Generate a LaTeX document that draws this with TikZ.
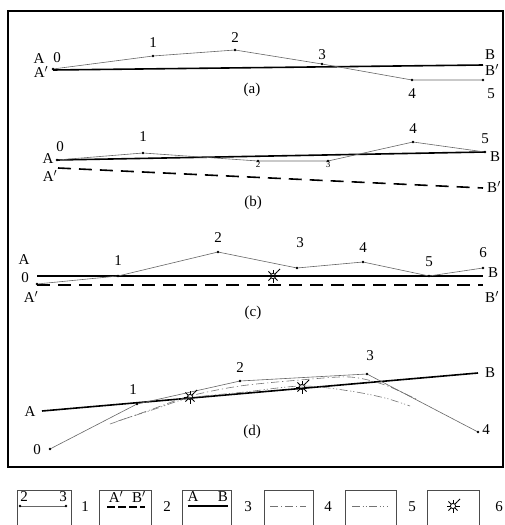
\documentclass[tikz,border=0pt]{standalone}
\usepackage{fontspec}
\setmainfont{Liberation Serif}
\begin{document}
\begin{tikzpicture}[x=1pt,y=-1pt,
  lbl/.style={inner sep=0pt,font=\fontsize{15}{17}\selectfont},
  heavy/.style={line width=1.6pt,black},
  heavydash/.style={line width=1.6pt,black,dash pattern=on 13pt off 8pt},
  thinline/.style={line width=0.6pt,black!60},
  dashdot/.style={line width=0.6pt,black!55,dash pattern=on 8pt off 3pt on 1.2pt off 3pt},
  dashdotdot/.style={line width=0.6pt,black!55,dash pattern=on 8pt off 2.5pt on 1.2pt off 2pt on 1.2pt off 2.5pt},
  legbox/.style={line width=0.6pt,black!70},
  sunmark/.pic={
    \draw[line width=0.8pt] (0,0) circle (2.6);
    \foreach \a in {0,45,...,315} \draw[line width=0.8pt] (\a:2.6) -- (\a:6.5);
    \draw[line width=0.8pt] (-45:6.5) -- (-45:10);
  }]
\useasboundingbox (0,0) rectangle (505,525);
\fill[white] (0,0) rectangle (505,525);
% frame
\draw[line width=1.5pt] (8,11) rectangle (503,467);

% ---------------- (a)
\coordinate (a0) at (53,69);
\coordinate (a1) at (153,56);
\coordinate (a2) at (235,50);
\coordinate (a3) at (322,64);
\coordinate (a4) at (412,80);
\coordinate (a5) at (483,80);
\coordinate (aA) at (53,70);
\coordinate (aB) at (483,65);
\draw[heavy] (aA) -- (aB);
\draw[thinline] (a0) -- (a1) -- (a2) -- (a3) -- (a4) -- (a5);
\foreach \p in {a0,a1,a2,a3,a4,a5} \fill (\p) circle (1.3);
\node[lbl] (la0) at (57,58) {0};
\node[lbl] (la1) at (153,43) {1};
\node[lbl] (la2) at (235,38) {2};
\node[lbl] (la3) at (322,55) {3};
\node[lbl] (la4) at (412,94) {4};
\node[lbl] (la5) at (491,94) {5};
\node[lbl] (laA) at (39,59) {A};
\node[lbl] (laAp) at (41,72) {A$'$};
\node[lbl] (laB) at (490,55) {B};
\node[lbl] (laBp) at (492,70) {B$'$};
\node[lbl] (lacap) at (252,90) {(a)};

% ---------------- (b)
\coordinate (b0) at (57,160);
\coordinate (b1) at (143,153);
\coordinate (b2) at (258,161);
\coordinate (b3) at (328,161);
\coordinate (b4) at (413,142);
\coordinate (b5) at (485,152);
\coordinate (bA) at (57,160);
\coordinate (bB) at (485,152);
\coordinate (bAp) at (58,168);
\coordinate (bBp) at (483,188);
\draw[heavy] (bA) -- (bB);
\draw[heavydash] (bAp) -- (bBp);
\draw[thinline] (b0) -- (b1) -- (b2) -- (b3) -- (b4) -- (b5);
\foreach \p in {b0,b1,b2,b3,b4,b5} \fill (\p) circle (1.3);
\node[lbl] (lb0) at (60,147) {0};
\node[lbl] (lb1) at (143,137) {1};
\node[lbl,font=\fontsize{9}{10}\selectfont] (lb2) at (258,165) {2};
\node[lbl,font=\fontsize{9}{10}\selectfont] (lb3) at (328,165) {3};
\node[lbl] (lb4) at (413,129) {4};
\node[lbl] (lb5) at (485,139) {5};
\node[lbl] (lbA) at (48,159) {A};
\node[lbl] (lbAp) at (50,176) {A$'$};
\node[lbl] (lbB) at (495,157) {B};
\node[lbl] (lbBp) at (494,187) {B$'$};
\node[lbl] (lbcap) at (253,203) {(b)};

% ---------------- (c)
\coordinate (c0) at (37,284);
\coordinate (c1) at (118,276);
\coordinate (c2) at (218,252);
\coordinate (c3) at (297,268);
\coordinate (c4) at (363,262);
\coordinate (c5) at (429,276);
\coordinate (c6) at (483,268);
\coordinate (cA) at (37,276);
\coordinate (cB) at (483,276);
\coordinate (cAp) at (37,285);
\coordinate (cBp) at (483,285);
\draw[heavy] (cA) -- (cB);
\draw[heavydash] (cAp) -- (cBp);
\draw[thinline] (c0) -- (c1) -- (c2) -- (c3) -- (c4) -- (c5) -- (c6);
\foreach \p in {c0,c1,c2,c3,c4,c5,c6} \fill (\p) circle (1.3);
\pic at (273,276) {sunmark};
\node[lbl] (lc0) at (25,278) {0};
\node[lbl] (lc1) at (118,261) {1};
\node[lbl] (lc2) at (218,238) {2};
\node[lbl] (lc3) at (300,243) {3};
\node[lbl] (lc4) at (363,248) {4};
\node[lbl] (lc5) at (429,262) {5};
\node[lbl] (lc6) at (483,253) {6};
\node[lbl] (lcA) at (24,260) {A};
\node[lbl] (lcAp) at (31,297) {A$'$};
\node[lbl] (lcB) at (493,273) {B};
\node[lbl] (lcBp) at (492,297) {B$'$};
\node[lbl] (lccap) at (253,313) {(c)};

% ---------------- (d)
\coordinate (d0) at (50,449);
\coordinate (d1) at (137,404);
\coordinate (d2) at (240,381);
\coordinate (d3) at (367,374);
\coordinate (d4) at (478,432);
\coordinate (dA) at (42,411);
\coordinate (dB) at (478,373);
\draw[heavy] (dA) -- (dB);
\draw[dashdot] plot[smooth] coordinates {(110,424) (150,410) (190,396) (240,386) (300,380) (350,377) (385,385) (418,400)};
\draw[dashdotdot] plot[smooth] coordinates {(118,421) (155,409) (190,398) (245,392) (302,386) (350,391) (385,398) (410,406)};
\draw[thinline] (d0) -- (d1) -- (d2) -- (d3) -- (d4);
\foreach \p in {d0,d1,d2,d3,d4} \fill (\p) circle (1.3);
\pic at (190,397) {sunmark};
\pic at (302,387) {sunmark};
\node[lbl] (ld0) at (37,450) {0};
\node[lbl] (ld1) at (133,390) {1};
\node[lbl] (ld2) at (240,368) {2};
\node[lbl] (ld3) at (370,356) {3};
\node[lbl] (ld4) at (486,430) {4};
\node[lbl] (ldA) at (30,412) {A};
\node[lbl] (ldB) at (490,373) {B};
\node[lbl] (ldcap) at (252,432) {(d)};

% ---------------- legend
\draw[legbox] (17,527) |- (71,490) -- (71,527);
\draw[legbox] (99,527) |- (151,490) -- (151,527);
\draw[legbox] (182,527) |- (231,490) -- (231,527);
\draw[legbox] (264,527) |- (313,490) -- (313,527);
\draw[legbox] (345,527) |- (396,490) -- (396,527);
\draw[legbox] (427,527) |- (479,490) -- (479,527);
% box 1
\coordinate (g1a) at (20,506);
\coordinate (g1b) at (66,506);
\draw[thinline] (g1a) -- (g1b);
\fill (g1a) circle (1.3);
\fill (g1b) circle (1.3);
\node[lbl] (g1l) at (24,497) {2};
\node[lbl] (g1r) at (63,497) {3};
\node[lbl] (g1n) at (85,507) {1};
% box 2
\coordinate (g2a) at (107,507);
\coordinate (g2b) at (145,507);
\draw[line width=1.6pt,dash pattern=on 8pt off 3pt] (g2a) -- (g2b);
\node[lbl] (g2l) at (116,497) {A$'$};
\node[lbl] (g2r) at (139,497) {B$'$};
\node[lbl] (g2n) at (167,507) {2};
% box 3
\coordinate (g3a) at (188,506);
\coordinate (g3b) at (228,506);
\draw[heavy] (g3a) -- (g3b);
\node[lbl] (g3l) at (193,497) {A};
\node[lbl] (g3r) at (223,497) {B};
\node[lbl] (g3n) at (248,507) {3};
% box 4
\coordinate (g4a) at (270,506);
\coordinate (g4b) at (306,506);
\draw[dashdot] (g4a) -- (g4b);
\node[lbl] (g4n) at (328,507) {4};
% box 5
\coordinate (g5a) at (352,506);
\coordinate (g5b) at (388,506);
\draw[dashdotdot] (g5a) -- (g5b);
\node[lbl] (g5n) at (412,507) {5};
% box 6
\pic at (453,506) {sunmark};
\node[lbl] (g6n) at (499,507) {6};
\end{tikzpicture}
\end{document}
